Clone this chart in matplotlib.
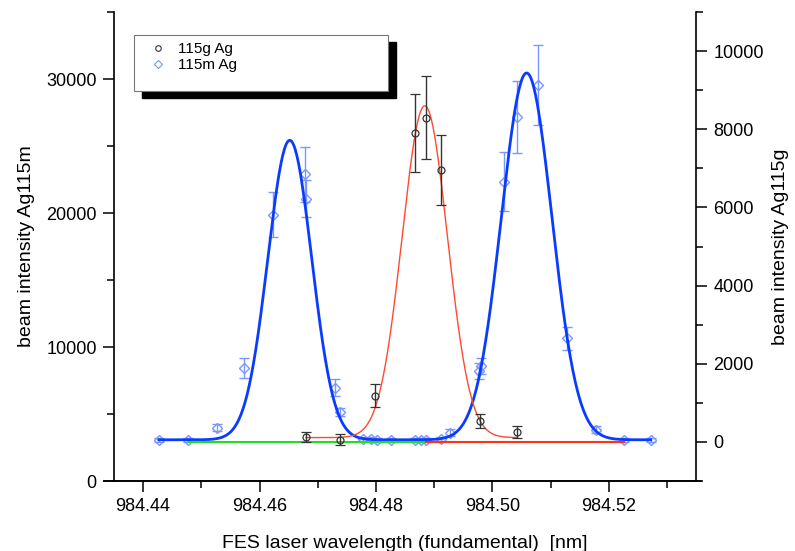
import numpy as np
import matplotlib
matplotlib.use('Agg')
import matplotlib.pyplot as plt
from matplotlib.patches import Rectangle
from matplotlib.ticker import MultipleLocator, FormatStrFormatter
from matplotlib.lines import Line2D

plt.rcParams['font.family'] = ['Liberation Sans', 'DejaVu Sans']

# 115m Ag points (left axis)
m_wl = [984.4427, 984.4477, 984.4527, 984.4573, 984.4623, 984.4678, 984.4680,
        984.4730, 984.4738, 984.4778, 984.4791, 984.4802, 984.4826, 984.4867,
        984.4877, 984.4886, 984.4912, 984.4927, 984.4977, 984.4980, 984.5020,
        984.5042, 984.5078, 984.5128, 984.5178, 984.5227, 984.5272]
m_int = [3075, 3075, 3975, 8400, 19875, 22875, 21075,
         6975, 5175, 3150, 3150, 3075, 3075, 3075,
         3075, 3075, 3150, 3600, 8175, 8550, 22350,
         27150, 29550, 10650, 3825, 3075, 3075]
m_err = [150, 150, 250, 750, 1700, 2060, 1400,
         600, 300, 150, 150, 150, 150, 150,
         150, 150, 150, 250, 600, 600, 2175,
         2700, 3000, 860, 250, 150, 150]

# 115g Ag points (right axis)
g_wl = [984.4680, 984.4738, 984.4798, 984.4867, 984.4886, 984.4912, 984.4979, 984.5042]
g_int = [130, 50, 1185, 7910, 8300, 6965, 535, 250]
g_err = [130, 140, 300, 1000, 1050, 895, 170, 155]

# fit parameters
m_base = 3075
m_peaks = [(984.4652, 22350, 0.00377), (984.5059, 27375, 0.00435)]
m_range = (984.4427, 984.5272)
g_base = 110
g_peak = (984.4884, 8490, 0.00389)
g_range = (984.4680, 984.5042)
green_range = (984.4477, 984.4886)
red_range = (984.4886, 984.5227)


def gauss(x, c, a, s):
    return a * np.exp(-0.5 * ((x - c) / s) ** 2)


W, H = 795, 551
left_px, right_px, top_px, bottom_px = 114, 696, 12, 481

fig = plt.figure(figsize=(W / 100, H / 100), dpi=100)
ax = fig.add_axes([left_px / W, (H - bottom_px) / H,
                   (right_px - left_px) / W, (bottom_px - top_px) / H])
ax2 = ax.twinx()

blue_pt = '#7a96ff'
ax.errorbar(m_wl, m_int, yerr=m_err, fmt='D', ms=5, mfc='none', mec=blue_pt,
            mew=1.0, ecolor=blue_pt, elinewidth=1.0, capsize=3.5, capthick=1.0, zorder=2)
xm = np.linspace(m_range[0], m_range[1], 600)
ym = m_base + sum(gauss(xm, *p) for p in m_peaks)
ax.plot(xm, ym, color='#0a3cff', lw=2.0, zorder=3)

ax2.plot(green_range, [0, 0], color='#22dd22', lw=1.5)
ax2.plot(red_range, [0, 0], color='#ff3311', lw=1.5)
xg = np.linspace(g_range[0], g_range[1], 400)
ax2.plot(xg, g_base + gauss(xg, *g_peak), color='#ff4a30', lw=1.0)
ax2.errorbar(g_wl, g_int, yerr=g_err, fmt='o', ms=5, mfc='none', mec='#333333',
             mew=0.9, ecolor='#333333', elinewidth=1.0, capsize=3.5, capthick=1.0)

ax.set_xlim(984.435, 984.535)
ax.set_ylim(0, 35000)
ax2.set_ylim(-1000, 11000)

ax.xaxis.set_major_locator(MultipleLocator(0.02))
ax.xaxis.set_minor_locator(MultipleLocator(0.01))
ax.xaxis.set_major_formatter(FormatStrFormatter('%.2f'))
ax.yaxis.set_major_locator(MultipleLocator(10000))
ax.yaxis.set_minor_locator(MultipleLocator(5000))
ax2.yaxis.set_major_locator(MultipleLocator(2000))
ax2.yaxis.set_minor_locator(MultipleLocator(1000))

for a in (ax, ax2):
    a.spines['top'].set_visible(False)
    for sp in a.spines.values():
        sp.set_linewidth(1.2)
    a.tick_params(which='major', direction='out', length=8, width=1.1, labelsize=13, pad=4.5)
    a.tick_params(which='minor', direction='out', length=5, width=1.1)
ax.spines['right'].set_visible(False)
ax2.spines['left'].set_visible(False)
ax2.spines['bottom'].set_visible(False)

# bottom axis line runs a little past both side spines
plot_w = right_px - left_px
ax.plot([-10 / plot_w, 1 + 5 / plot_w], [0, 0], transform=ax.transAxes,
        color='black', lw=1.2, clip_on=False)

ax.set_xlabel('FES laser wavelength (fundamental)  [nm]', fontsize=14, labelpad=14)
ax.set_ylabel('beam intensity Ag115m', fontsize=14, labelpad=8)
ax2.set_ylabel('beam intensity Ag115g', fontsize=14, labelpad=6)

# legend box with hard black shadow
bx0, by0, bx1, by1 = 134, 35, 388, 91


def fr(px, py):
    return px / W, 1 - py / H


sx, sy = fr(bx0 + 8, by1 + 7)
fig.patches.append(Rectangle((sx, sy), (bx1 - bx0) / W, (by1 - by0) / H,
                             transform=fig.transFigure, facecolor='black',
                             edgecolor='black', zorder=5))
lx, ly = fr(bx0, by1)
fig.patches.append(Rectangle((lx, ly), (bx1 - bx0) / W, (by1 - by0) / H,
                             transform=fig.transFigure, facecolor='white',
                             edgecolor='#777777', lw=0.8, zorder=6))
handles = [Line2D([], [], ls='none', marker='o', ms=4, mfc='none', mec='#333333', mew=0.8),
           Line2D([], [], ls='none', marker='D', ms=4, mfc='none', mec=blue_pt, mew=0.8)]
lx0, ly0 = fr(bx0 + 7, by0 - 2)
leg = fig.legend(handles, ['115g Ag', '115m Ag'], loc='upper left',
                 bbox_to_anchor=(lx0, ly0), frameon=False, fontsize=11,
                 handlelength=1.0, handletextpad=0.8, labelspacing=0.15,
                 borderpad=0.1)
leg.set_zorder(7)

fig.savefig('out.png', dpi=100)
